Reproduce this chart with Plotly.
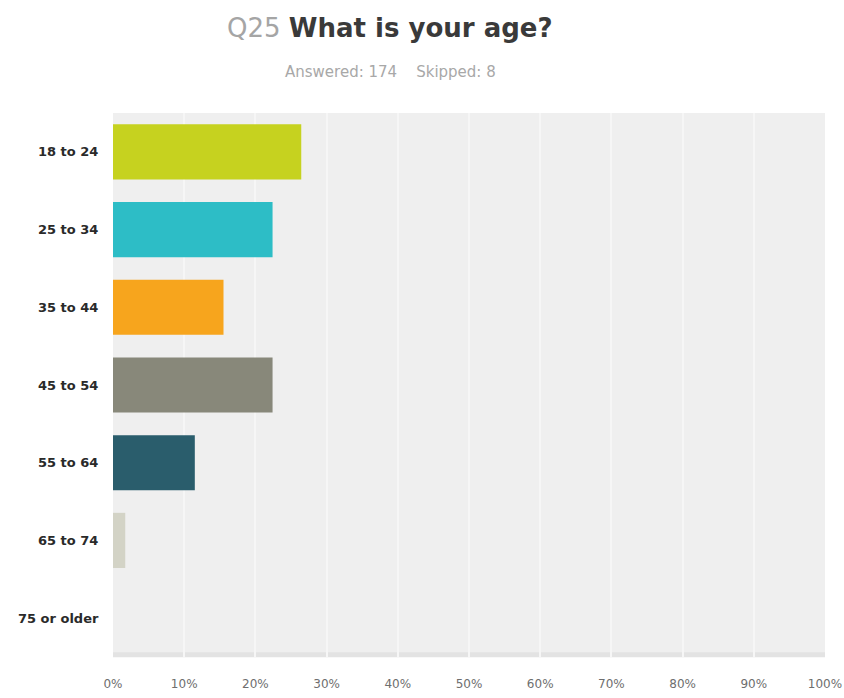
import plotly.graph_objects as go

# Survey question: age distribution of respondents
categories = ["18 to 24", "25 to 34", "35 to 44", "45 to 54", "55 to 64", "65 to 74", "75 or older"]
percentages = [26.44, 22.41, 15.52, 22.41, 11.49, 1.72, 0.0]
bar_colors = ["#c6d21f", "#2dbdc6", "#f7a51d", "#88887a", "#2a5d6c", "#d3d3c6", "#cccccc"]
tick_values = [0, 10, 20, 30, 40, 50, 60, 70, 80, 90, 100]
tick_labels = ["0%", "10%", "20%", "30%", "40%", "50%", "60%", "70%", "80%", "90%", "100%"]
answered = 174
skipped = 8

W, H = 844, 698
L, R, T, B = 113, 19, 113, 41
plot_w = W - L - R
plot_h = H - T - B

fig = go.Figure(
    go.Bar(
        x=percentages,
        y=categories,
        orientation="h",
        marker=dict(color=bar_colors, line=dict(width=0)),
        hoverinfo="skip",
    )
)

fig.update_layout(
    width=W,
    height=H,
    margin=dict(l=L, r=R, t=T, b=B, autoexpand=False),
    paper_bgcolor="white",
    plot_bgcolor="#efefef",
    bargap=0.29,
    showlegend=False,
    font=dict(family="DejaVu Sans", color="#333333"),
)

fig.update_xaxes(
    range=[0, 100],
    tickvals=tick_values,
    ticktext=tick_labels,
    showgrid=True,
    gridcolor="#f6f6f6",
    gridwidth=1.5,
    zeroline=False,
    showline=False,
    ticks="outside",
    ticklen=16,
    tickcolor="rgba(0,0,0,0)",
    tickfont=dict(family="DejaVu Sans", size=12, color="#6e6e6e"),
    automargin=False,
    ticklabeloverflow="allow",
    fixedrange=True,
)

fig.update_yaxes(
    autorange="reversed",
    showgrid=False,
    zeroline=False,
    showline=False,
    ticks="outside",
    ticklen=11,
    tickcolor="rgba(0,0,0,0)",
    tickfont=dict(family="DejaVu Sans", size=13, color="#2a2a2a", weight="bold"),
    automargin=False,
    fixedrange=True,
)

# darker band along the bottom edge of the plotting area
fig.add_shape(
    type="line", xref="paper", yref="paper",
    x0=0, x1=1, y0=0.004, y1=0.004,
    line=dict(color="#e3e3e3", width=5), layer="below",
)

title_x = (390 - L) / plot_w
fig.add_annotation(
    xref="paper", yref="paper",
    x=title_x, y=1 + (T - 28) / plot_h,
    xanchor="center", yanchor="middle",
    showarrow=False,
    text="<span style='color:#a5a5a5'>Q25</span> <b>What is your age?</b>",
    font=dict(family="DejaVu Sans", size=26, color="#3a3a3a"),
)
fig.add_annotation(
    xref="paper", yref="paper",
    x=title_x, y=1 + (T - 72) / plot_h,
    xanchor="center", yanchor="middle",
    showarrow=False,
    text=f"Answered: {answered}&nbsp;&nbsp;&nbsp;&nbsp;Skipped: {skipped}",
    font=dict(family="DejaVu Sans", size=15, color="#a8a8a8"),
)

fig.write_html("out.html")
